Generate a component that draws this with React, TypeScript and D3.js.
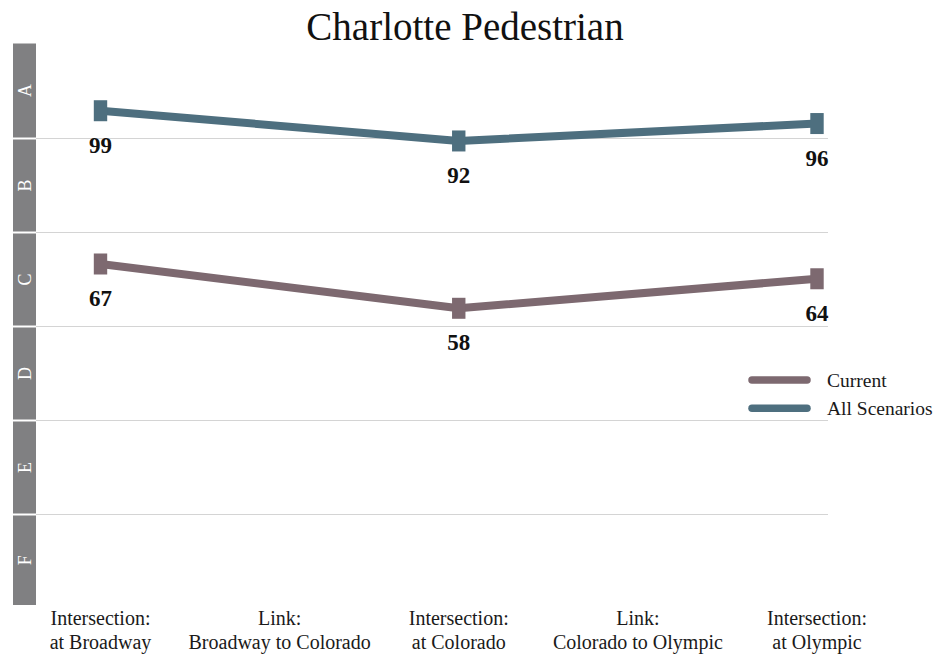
import React from "react";
import * as d3 from "d3";

// Segments along the corridor
const categories = [
  "Intersection:\nat Broadway",
  "Link:\nBroadway to Colorado",
  "Intersection:\nat Colorado",
  "Link:\nColorado to Olympic",
  "Intersection:\nat Olympic",
];

// Scores (only intersections are scored)
const currentValues: (number | null)[] = [67, null, 58, null, 64];
const allScenarioValues: (number | null)[] = [99, null, 92, null, 96];

// Grade bands, top to bottom, and the score at each band edge
const grades = ["A", "B", "C", "D", "E", "F"];
const gradeBreaks = [114.5, 92.5, 73.4, 54.3, 35.2, 16.1, -3];

const seriesNames = ["Current", "All Scenarios"];
const seriesColors = ["#7d6970", "#4e6f7f"];

const W = 937;
const H = 656;
const FONT = "'Liberation Serif', 'Times New Roman', Times, serif";

export default function App() {
  const plotTop = 44.5;
  const bandH = 94;
  const plotBottom = 605;
  const barX = 13;
  const barW = 23;
  const gridRight = 828;

  const edgesY = gradeBreaks.map((_, i) => plotTop + i * bandH);
  const y = d3.scaleLinear().domain(gradeBreaks).range(edgesY);
  const x = d3
    .scalePoint<string>()
    .domain(categories)
    .range([100.5, 817]);

  const seriesData = [currentValues, allScenarioValues];

  const line = d3
    .line<{ c: string; v: number }>()
    .x((d) => x(d.c) as number)
    .y((d) => y(d.v));

  const points = (vals: (number | null)[]) =>
    categories
      .map((c, i) => ({ c, v: vals[i] }))
      .filter((d) => d.v !== null) as { c: string; v: number }[];

  return (
    <svg
      width={W}
      height={H}
      style={{ position: "absolute", left: 0, top: 0, background: "#fff" }}
      fontFamily={FONT}
    >
      <rect width={W} height={H} fill="#fff" />

      {/* title */}
      <text x={465} y={40} fontSize={39} textAnchor="middle" fill="#111">
        Charlotte Pedestrian
      </text>

      {/* grade gridlines */}
      {edgesY.slice(1, 6).map((ey, i) => (
        <line
          key={"g" + i}
          x1={barX + barW}
          x2={gridRight}
          y1={ey}
          y2={ey}
          stroke="#d4d4d4"
          strokeWidth={1.2}
        />
      ))}

      {/* grade band bar */}
      {grades.map((g, i) => {
        const top = i === 0 ? plotTop - 1 : edgesY[i] + 1;
        const bottom = i === grades.length - 1 ? plotBottom : edgesY[i + 1] - 1;
        const cy = (top + bottom) / 2;
        return (
          <g key={g}>
            <rect x={barX} y={top} width={barW} height={bottom - top} fill="#808082" />
            <text
              transform={`translate(${barX + barW / 2 + 6},${cy}) rotate(-90)`}
              textAnchor="middle"
              fontSize={18}
              fill="#fff"
            >
              {g}
            </text>
          </g>
        );
      })}

      {/* series lines and markers */}
      {seriesData.map((vals, si) => {
        const pts = points(vals);
        return (
          <g key={"s" + si}>
            <path
              d={line(pts) || ""}
              fill="none"
              stroke={seriesColors[si]}
              strokeWidth={8}
              strokeLinejoin="round"
            />
            {pts.map((p, j) => (
              <rect
                key={j}
                x={(x(p.c) as number) - 6.7}
                y={y(p.v) - 10.5}
                width={13.4}
                height={21}
                fill={seriesColors[si]}
              />
            ))}
            {pts.map((p, j) => (
              <text
                key={"l" + j}
                x={x(p.c) as number}
                y={y(p.v) + 42}
                textAnchor="middle"
                fontSize={23}
                fontWeight="bold"
                fill="#111"
              >
                {p.v}
              </text>
            ))}
          </g>
        );
      })}

      {/* category labels */}
      {categories.map((c) => {
        const lines = c.split("\n");
        return (
          <text
            key={c}
            x={x(c) as number}
            y={625}
            textAnchor="middle"
            fontSize={20}
            fill="#1a1a1a"
          >
            {lines.map((t, k) => (
              <tspan key={k} x={x(c) as number} dy={k === 0 ? 0 : 24}>
                {t}
              </tspan>
            ))}
          </text>
        );
      })}

      {/* legend */}
      {seriesNames.map((n, i) => (
        <g key={n} transform={`translate(0,${380 + i * 28.3})`}>
          <line
            x1={752}
            x2={807}
            y1={0}
            y2={0}
            stroke={seriesColors[i]}
            strokeWidth={7.5}
            strokeLinecap="round"
          />
          <text x={827} y={6.5} fontSize={19.5} fill="#1a1a1a">
            {n}
          </text>
        </g>
      ))}
    </svg>
  );
}
